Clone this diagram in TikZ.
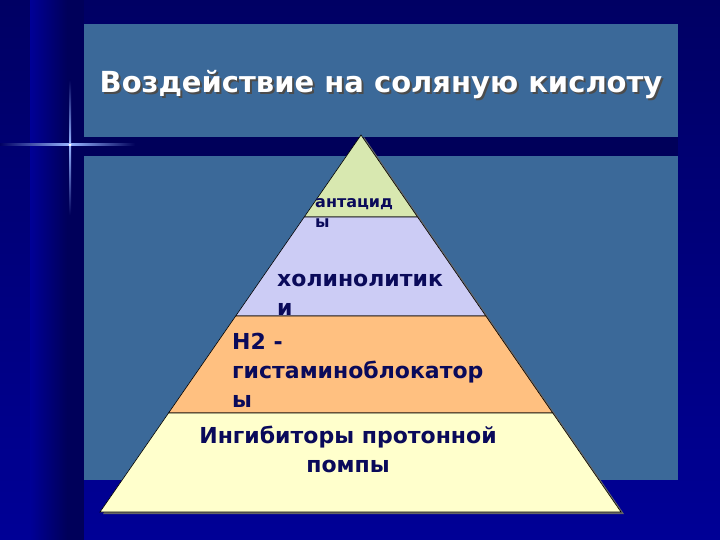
\documentclass[tikz,border=0pt]{standalone}
\usepackage{fontspec}
\setmainfont{DejaVu Sans}
\usetikzlibrary{calc}
\definecolor{bgtop}{RGB}{0,0,100}
\definecolor{bgbottom}{RGB}{0,0,150}
\definecolor{bgdark}{RGB}{0,0,90}
\definecolor{panelblue}{RGB}{59,105,153}
\definecolor{sparkle}{RGB}{150,180,255}
\definecolor{textnavy}{RGB}{10,10,90}
\definecolor{layerA}{RGB}{216,232,176}
\definecolor{layerB}{RGB}{204,204,245}
\definecolor{layerC}{RGB}{255,192,128}
\definecolor{layerD}{RGB}{255,255,204}
\begin{document}
\begin{tikzpicture}[x=1pt,y=-1pt]
	\tikzset{panel/.style={fill=panelblue},
		layer/.style={draw=black,line width=0.6pt},
		lbl/.style={text=textnavy,align=left,inner sep=0pt,anchor=base west,
			font=\bfseries\fontsize{22}{29}\selectfont}}

	% background
	\shade[top color=bgtop,bottom color=bgbottom] (0,0) rectangle (720,540);
	\useasboundingbox (0,0) rectangle (720,540);
	\shade[left color=bgbottom,right color=bgdark] (30,0) rectangle (67,540);
	\fill[bgdark] (67,0) rectangle (84,540);
	\fill[bgdark] (84,137) rectangle (678,156);

	% sparkle
	\shade[left color=bgtop,right color=sparkle] (0,144) rectangle (70,146);
	\shade[left color=sparkle,right color=bgdark] (70,144) rectangle (135,146);
	\shade[top color=bgdark,bottom color=sparkle] (69,80) rectangle (71,145);
	\shade[top color=sparkle,bottom color=bgdark] (69,145) rectangle (71,215);
	\fill[white] (70,145) circle (1.5);

	% panels
	\fill[panel] (84,24) rectangle (678,137);
	\fill[panel] (84,156) rectangle (678,480);

	\node[text=black!70,font=\bfseries\fontsize{29}{34}\selectfont,anchor=base]
		(titleshadow) at (383,95) {Воздействие на соляную кислоту};
	\node[text=white,font=\bfseries\fontsize{29}{34}\selectfont,anchor=base]
		(title) at (381,93) {Воздействие на соляную кислоту};

	% pyramid
	\coordinate (apex) at (361,135);
	\coordinate (bl) at (100,512);
	\coordinate (br) at (621,512);
	\coordinate (l1) at ($(apex)!0.2175!(bl)$);
	\coordinate (r1) at ($(apex)!0.2175!(br)$);
	\coordinate (l2) at ($(apex)!0.480!(bl)$);
	\coordinate (r2) at ($(apex)!0.480!(br)$);
	\coordinate (l3) at ($(apex)!0.7374!(bl)$);
	\coordinate (r3) at ($(apex)!0.7374!(br)$);

	\fill[black!60] ($(apex)+(3,2)$) -- ($(br)+(3,2)$) -- ($(bl)+(3,2)$) -- cycle;
	\draw[layer,fill=layerA] (apex) -- (r1) -- (l1) -- cycle;
	\draw[layer,fill=layerB] (l1) -- (r1) -- (r2) -- (l2) -- cycle;
	\draw[layer,fill=layerC] (l2) -- (r2) -- (r3) -- (l3) -- cycle;
	\draw[layer,fill=layerD] (l3) -- (r3) -- (br) -- (bl) -- cycle;

	% labels, anchored at the baseline of their last line
	\node[lbl,font=\bfseries\fontsize{16}{20}\selectfont]
		(antacid) at (315,227) {антацид\\ы};
	\node[lbl] (cholin) at (277,315) {холинолитик\\и};
	\node[lbl] (histamin) at (232,407) {H2 -\\гистаминоблокатор\\ы};
	\node[lbl,align=center,anchor=base] (proton) at (348,472) {Ингибиторы протонной\\помпы};
\end{tikzpicture}
\end{document}
